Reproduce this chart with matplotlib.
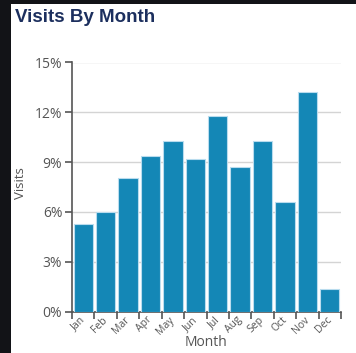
import numpy as np
import matplotlib
matplotlib.use("Agg")
import matplotlib.pyplot as plt
from matplotlib.patches import Rectangle
from matplotlib.ticker import FuncFormatter, FixedLocator

# monthly share of visits (%)
months = ["Jan", "Feb", "Mar", "Apr", "May", "Jun",
          "Jul", "Aug", "Sep", "Oct", "Nov", "Dec"]
visits = [5.3, 6.0, 8.05, 9.35, 10.25, 9.2,
          11.8, 8.7, 10.3, 6.6, 13.25, 1.35]
y_ticks = [0, 3, 6, 9, 12, 15]

text_gray = "#555555"
bar_color = "#1487b6"

fig = plt.figure(figsize=(3.56, 3.53), dpi=100)

# dark frame strips along the left and top edges
fig.add_artist(Rectangle((0, 0), 11 / 356, 1, transform=fig.transFigure,
                         facecolor="#121317", edgecolor="none", zorder=10))
fig.add_artist(Rectangle((0, 1 - 3.5 / 353), 1, 3.5 / 353, transform=fig.transFigure,
                         facecolor="#121317", edgecolor="none", zorder=10))

fig.text(15 / 356, 1 - 17.5 / 353, "Visits By Month", family="Liberation Sans",
         fontweight="bold", fontsize=13.5, color="#1c2f5e", va="center", ha="left")

ax = fig.add_axes([72 / 356, 1 - 311.5 / 353, 269 / 356, 249 / 353])
x = np.arange(len(months))
ax.bar(x, visits, width=0.86, color=bar_color, edgecolor="#b9dcee",
       linewidth=0.8, zorder=3)

ax.set_xlim(-0.5, len(months) - 0.5)
ax.set_ylim(0, 15)
ax.set_yticks(y_ticks)
ax.yaxis.set_major_formatter(FuncFormatter(lambda v, _: f"{v:.0f}%"))
ax.grid(axis="y", color="#d4d4d4", linewidth=1, zorder=0)

# tick marks on band edges, labels on band centres
ax.xaxis.set_major_locator(FixedLocator(x))
ax.xaxis.set_minor_locator(FixedLocator(np.arange(-0.5, len(months), 1.0)))
ax.set_xticklabels(months, rotation=45, ha="right", va="center",
                   rotation_mode="anchor", family="Open Sans",
                   fontsize=7.5, color=text_gray)
ax.tick_params(axis="x", which="major", length=0, pad=5)
ax.tick_params(axis="x", which="minor", length=5, width=1.2, color=text_gray)
ax.tick_params(axis="y", length=5, width=1.2, color=text_gray,
               labelcolor=text_gray, labelsize=10, pad=2)
for lbl in ax.get_yticklabels():
    lbl.set_family("Open Sans")

for side in ("top", "right"):
    ax.spines[side].set_visible(False)
for side in ("left", "bottom"):
    ax.spines[side].set_color(text_gray)
    ax.spines[side].set_linewidth(1.2)

fig.text(20 / 356, 1 - 183 / 353, "Visits", family="Open Sans", fontsize=9.5,
         color=text_gray, ha="center", va="center", rotation=90)
fig.text(206.5 / 356, 1 - 343 / 353, "Month", family="Open Sans", fontsize=10,
         color=text_gray, ha="center", va="center")

fig.savefig("out.png", dpi=100)
